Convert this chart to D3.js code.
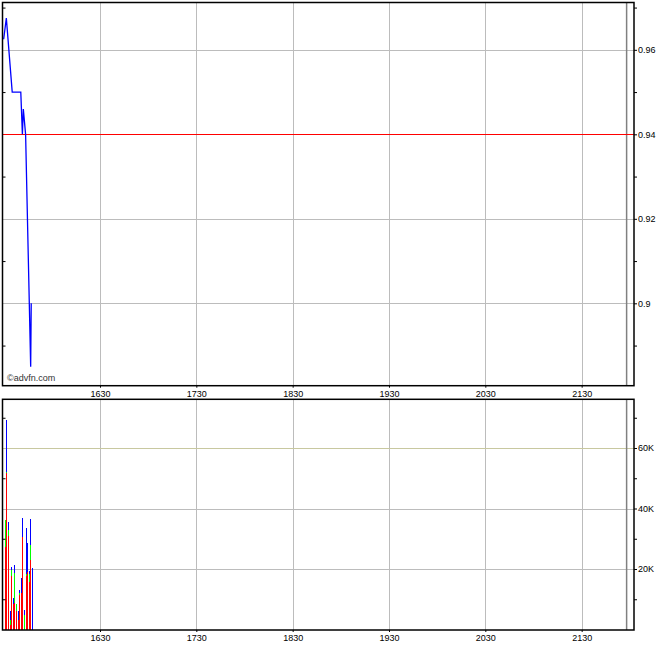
<!DOCTYPE html>
<html>
<head>
<meta charset="utf-8">
<script src="https://cdn.jsdelivr.net/npm/d3@7"></script>
<style>
  body { margin: 0; background: #fff; }
  text { font-family: "Liberation Sans", Arial, sans-serif; }
</style>
</head>
<body>
<div class="chart"></div>
<script>
// price trades (time, price)
const priceTimes = ["15:30:00", "15:31:40", "15:35:20", "15:40:40", "15:41:40", "15:42:15", "15:43:40", "15:46:50", "15:47:10"]
const priceValues = [0.9625, 0.9675, 0.95, 0.95, 0.94, 0.946, 0.94, 0.885, 0.9]
const prevClose = 0.94

// volume per minute, split by colour
const volTimes = ["15:31:00", "15:32:00", "15:33:00", "15:34:00", "15:35:00", "15:36:00", "15:37:00", "15:38:00", "15:39:00",
    "15:40:00", "15:41:00", "15:42:00", "15:43:00", "15:44:00", "15:45:00", "15:46:00", "15:47:00", "15:48:00"]
const volRed = [27400, 51700, 31000, 1500, 17800, 8300, 8700, 6000, 3100, 11500, 12000, 30700, 0, 17800, 19100, 15800, 23000, 0]
const volGreen = [8800, 500, 1900, 1600, 1900, 0, 9900, 2500, 0, 500, 0, 0, 4800, 700, 0, 2500, 5000, 0]
const volBlue = [0, 17100, 2800, 3000, 800, 2000, 2700, 0, 3000, 1000, 5000, 6100, 1600, 14900, 9400, 900, 8600, 20200]

const xStart = "15:30:00", xEnd = "22:02:36", closeTime = "21:58:00"
const xTickTimes = ["16:30:00", "17:30:00", "18:30:00", "19:30:00", "20:30:00", "21:30:00"]
const priceDomain = [0.8805, 0.9712]
const priceTicks = [0.9, 0.92, 0.94, 0.96]
const priceMinorTicks = [0.89, 0.91, 0.93, 0.95, 0.97]
const volDomain = [0, 76100]
const volTicks = [20000, 40000, 60000]
const volMinorTicks = [10000, 30000, 50000, 70000]

let width = 670, height = 647
let left = 2.5, right = 634
let pTop = 2.5, pBottom = 385.7
let vTop = 399.3, vBottom = 630, vZero = 629.5
let parse = d3.timeParse("%H:%M:%S")

let svg = d3.select(".chart")
    .append("svg")
    .attr("width", width)
    .attr("height", height)

let x = d3.scaleTime()
    .domain([parse(xStart), parse(xEnd)])
    .range([3.66, right])
let yPrice = d3.scaleLinear().domain(priceDomain).range([pBottom, pTop])
let yVol = d3.scaleLinear().domain(volDomain).range([vZero, vTop])

function panel(top, bottom, y, ticks, minor, fmt, gridColor) {
    let g = svg.append("g")
    // vertical grid
    g.append("g")
        .selectAll("line")
        .data(xTickTimes)
        .enter()
        .append("line")
        .attr("x1", (d) => Math.round(x(parse(d))) + 0.5)
        .attr("x2", (d) => Math.round(x(parse(d))) + 0.5)
        .attr("y1", top)
        .attr("y2", bottom)
        .attr("stroke", "#bcbcbc")
    // horizontal grid
    g.append("g")
        .selectAll("line")
        .data(ticks)
        .enter()
        .append("line")
        .attr("x1", left)
        .attr("x2", right)
        .attr("y1", (d) => Math.round(y(d)) + 0.5)
        .attr("y2", (d) => Math.round(y(d)) + 0.5)
        .attr("stroke", (d) => gridColor(d))
    // market close marker
    g.append("line")
        .attr("x1", x(parse(closeTime)))
        .attr("x2", x(parse(closeTime)))
        .attr("y1", top)
        .attr("y2", bottom)
        .attr("stroke", "#808080")
        .attr("stroke-width", 1.5)
    return g
}

function frame(top, bottom, y, ticks, minor, fmt) {
    svg.append("rect")
        .attr("x", left)
        .attr("y", top)
        .attr("width", right - left)
        .attr("height", bottom - top)
        .attr("fill", "none")
        .attr("stroke", "#000")
        .attr("stroke-width", 1.5)
    // right axis labels
    let ax = svg.append("g")
        .attr("transform", `translate(${right},0)`)
        .call(d3.axisRight(y).tickValues(ticks).tickSize(3).tickPadding(1).tickFormat(fmt))
    ax.select(".domain").remove()
    ax.selectAll("text").attr("font-size", 9).attr("font-family", null).attr("fill", "#000")
    let axm = svg.append("g")
        .attr("transform", `translate(${right},0)`)
        .call(d3.axisRight(y).tickValues(minor).tickSize(3).tickFormat(""))
    axm.select(".domain").remove()
    // inner ticks on left border
    let axl = svg.append("g")
        .attr("transform", `translate(${left},0)`)
        .call(d3.axisRight(y).tickValues(minor).tickSize(3).tickFormat(""))
    axl.select(".domain").remove()
    // bottom time labels
    let bx = svg.append("g")
        .attr("transform", `translate(0,${bottom})`)
        .call(d3.axisBottom(x).tickValues(xTickTimes.map(parse)).tickSize(2).tickPadding(3).tickFormat(d3.timeFormat("%H%M")))
    bx.select(".domain").remove()
    bx.selectAll("text").attr("font-size", 9).attr("font-family", null).attr("fill", "#000")
}

// price panel
panel(pTop, pBottom, yPrice, priceTicks, priceMinorTicks, null, () => "#bcbcbc")
svg.append("line")
    .attr("x1", left)
    .attr("x2", right)
    .attr("y1", Math.round(yPrice(prevClose)) + 0.5)
    .attr("y2", Math.round(yPrice(prevClose)) + 0.5)
    .attr("stroke", "#ff0000")
    .attr("stroke-width", 1.2)
let priceData = priceTimes.map((t, i) => ({t: parse(t), v: priceValues[i]}))
svg.append("path")
    .datum(priceData)
    .attr("fill", "none")
    .attr("stroke", "#0000ff")
    .attr("stroke-width", 1.3)
    .attr("d", d3.line().x((d) => x(d.t)).y((d) => yPrice(d.v)))
svg.append("text")
    .attr("x", 7)
    .attr("y", 381)
    .attr("font-size", 9)
    .attr("fill", "#333")
    .text("©advfn.com")
frame(pTop, pBottom, yPrice, priceTicks, priceMinorTicks, (d) => d3.format("")(d))

// volume panel
panel(vTop, vBottom, yVol, volTicks, volMinorTicks, null, (d) => d === 60000 ? "#c8c8a0" : "#bcbcbc")
let volRows = volTimes.map((t, i) => ({t: parse(t), red: volRed[i], green: volGreen[i], blue: volBlue[i]}))
let stack = d3.stack().keys(["red", "green", "blue"])(volRows)
let volColor = {red: "#ff0000", green: "#00ff00", blue: "#0000ff"}
svg.append("g")
    .selectAll("g")
    .data(stack)
    .enter()
    .append("g")
    .attr("fill", (d) => volColor[d.key])
    .selectAll("rect")
    .data((d) => d)
    .enter()
    .append("rect")
    .attr("shape-rendering", "crispEdges")
    .attr("x", (d) => Math.floor(x(d.data.t)))
    .attr("width", 1)
    .attr("y", (d) => yVol(d[1]))
    .attr("height", (d) => yVol(d[0]) - yVol(d[1]))
frame(vTop, vBottom, yVol, volTicks, volMinorTicks, (d) => d / 1000 + "K")
</script>
</body>
</html>
